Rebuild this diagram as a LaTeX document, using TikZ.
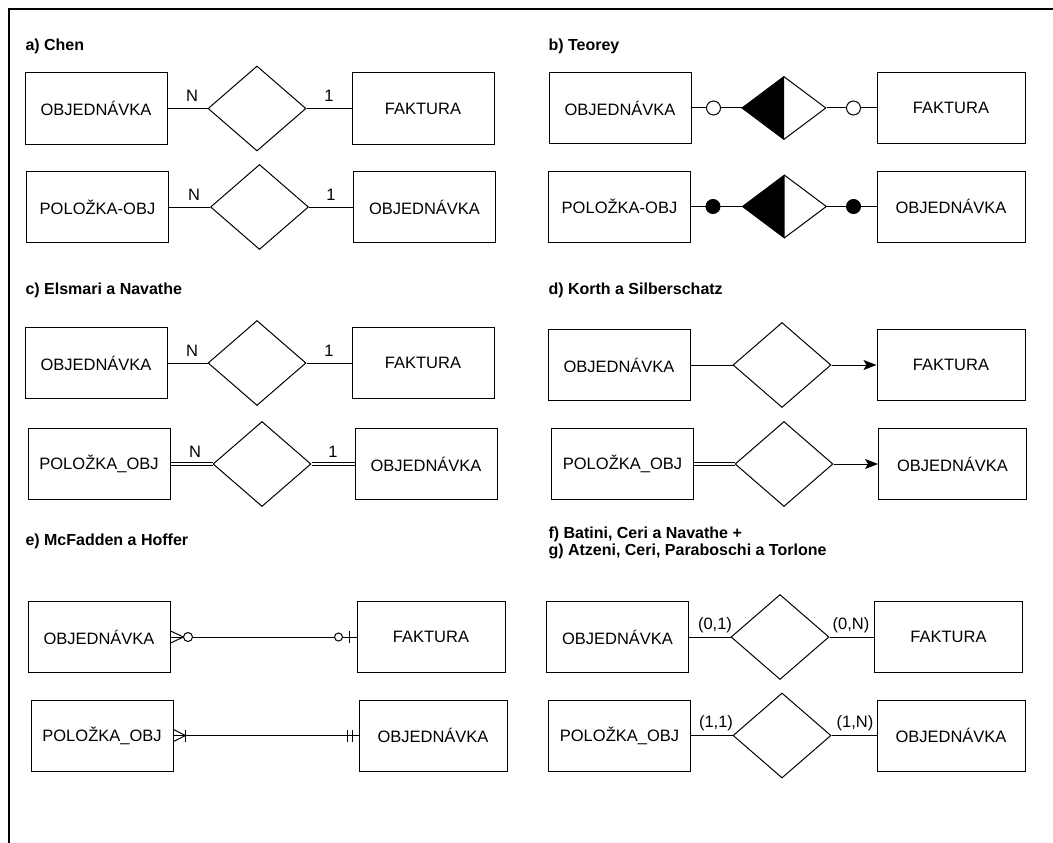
\documentclass[tikz,border=0pt]{standalone}
\usepackage{fontspec}
\setmainfont{Liberation Sans}
\usetikzlibrary{shapes.geometric}
\usetikzlibrary{arrows.meta}

\begin{document}
\begin{tikzpicture}[x=1pt, y=-1pt, line width=1pt,
	entity/.style={draw, minimum width=142pt, minimum height=71pt, inner sep=0pt, font=\fontsize{16.5}{19}\selectfont},
	wide/.style={entity, minimum width=148pt},
	rel/.style={draw, diamond, minimum width=98pt, minimum height=85pt, inner sep=0pt},
	smallrel/.style={rel, minimum width=84pt, minimum height=63pt},
	title/.style={anchor=west, inner sep=0pt, align=left, font=\bfseries\fontsize{16}{17}\selectfont},
	card/.style={inner sep=0pt, font=\fontsize{16.5}{19}\selectfont},
	ring/.style={draw, circle, fill=white, minimum size=14pt, inner sep=0pt},
	dot/.style={ring, fill=black},
	twin/.style={double, double distance=2pt},
	>={Stealth[length=13pt, width=10pt, inset=3pt]}]
	\useasboundingbox (0,0) rectangle (1053,843);
	\draw [line width=1.5pt] (9,843) -- (9,9) -- (1053,9);

	% a) Chen
	\node [title] (ta) at (25,46) {a) Chen};
	\node [entity] (aL1) at (96,108.5) {OBJEDNÁVKA};
	\node [rel] (aD1) at (257,108.5) {};
	\node [entity] (aR1) at (423,108.5) {FAKTURA};
	\node [entity] (aL2) at (97.5,207) {POLOŽKA-OBJ};
	\node [rel] (aD2) at (259.5,207) {};
	\node [entity] (aR2) at (424.5,207) {OBJEDNÁVKA};
	\draw (aL1) -- (aD1) -- (aR1);
	\draw (aL2) -- (aD2) -- (aR2);
	\node [card] (aN1) at (192,96) {N};
	\node [card] (aO1) at (329,96) {1};
	\node [card] (aN2) at (194,195) {N};
	\node [card] (aO2) at (331,195) {1};

	% b) Teorey
	\node [title] (tb) at (548,46) {b) Teorey};
	\node [entity] (bL1) at (620,108) {OBJEDNÁVKA};
	\node [smallrel] (bD1) at (784,108) {};
	\node [wide] (bR1) at (951,108) {FAKTURA};
	\node [entity] (bL2) at (619.5,206.5) {POLOŽKA-OBJ};
	\node [smallrel] (bD2) at (784.5,206.5) {};
	\node [wide] (bR2) at (951,206.5) {OBJEDNÁVKA};
	\fill (bD1.west) -- (bD1.north) -- (bD1.south) -- cycle;
	\fill (bD2.west) -- (bD2.north) -- (bD2.south) -- cycle;
	\draw (bL1) -- (bD1) -- (bR1);
	\draw (bL2) -- (bD2) -- (bR2);
	\node [ring] (bA1) at ([xshift=22pt]bL1.east) {};
	\node [ring] (bB1) at ([xshift=-23pt]bR1.west) {};
	\node [dot] (bA2) at ([xshift=22pt]bL2.east) {};
	\node [dot] (bB2) at ([xshift=-23pt]bR2.west) {};

	% c) Elsmari a Navathe
	\node [title] (tc) at (25,290) {c) Elsmari a Navathe};
	\node [entity] (cL1) at (96,363) {OBJEDNÁVKA};
	\node [rel] (cD1) at (257,363) {};
	\node [entity] (cR1) at (423,363) {FAKTURA};
	\node [entity] (cL2) at (99,464) {POLOŽKA\_OBJ};
	\node [rel] (cD2) at (262,464) {};
	\node [entity] (cR2) at (426,464) {OBJEDNÁVKA};
	\draw (cL1) -- (cD1) -- (cR1);
	\draw [twin] (cL2) -- (cD2);
	\draw [twin] (cD2) -- (cR2);
	\node [card] (cN1) at (192,351) {N};
	\node [card] (cO1) at (329,351) {1};
	\node [card] (cN2) at (195,452) {N};
	\node [card] (cO2) at (333,452) {1};

	% d) Korth a Silberschatz
	\node [title] (td) at (548,290) {d) Korth a Silberschatz};
	\node [entity] (dL1) at (619,365) {OBJEDNÁVKA};
	\node [rel] (dD1) at (782,365) {};
	\node [wide] (dR1) at (951,365) {FAKTURA};
	\node [entity] (dL2) at (622.5,464) {POLOŽKA\_OBJ};
	\node [rel] (dD2) at (784,464) {};
	\node [wide] (dR2) at (952.5,464) {OBJEDNÁVKA};
	\draw (dL1) -- (dD1);
	\draw [->] (dD1) -- (dR1);
	\draw [twin] (dL2) -- (dD2);
	\draw [->] (dD2) -- (dR2);

	% e) McFadden a Hoffer
	\node [title] (te) at (25,541) {e) McFadden a Hoffer};
	\node [entity] (eL1) at (99,637) {OBJEDNÁVKA};
	\node [wide] (eR1) at (431,637) {FAKTURA};
	\node [entity] (eL2) at (102,735.5) {POLOŽKA\_OBJ};
	\node [wide] (eR2) at (433,735.5) {OBJEDNÁVKA};
	\draw (eL1) -- (eR1);
	\draw ([yshift=6pt]eL1.east) -- ([xshift=13pt]eL1.east) -- ([yshift=-6pt]eL1.east);
	\node [ring, minimum size=9pt] (eA1) at ([xshift=17.5pt]eL1.east) {};
	\node [ring, minimum size=8pt] (eB1) at ([xshift=-18pt]eR1.west) {};
	\draw ([xshift=-7pt, yshift=6pt]eR1.west) -- ([xshift=-7pt, yshift=-6pt]eR1.west);
	\draw (eL2) -- (eR2);
	\draw ([yshift=6pt]eL2.east) -- ([xshift=12pt]eL2.east) -- ([yshift=-6pt]eL2.east);
	\draw ([xshift=12pt, yshift=6pt]eL2.east) -- ([xshift=12pt, yshift=-6pt]eL2.east);
	\draw ([xshift=-11pt, yshift=6pt]eR2.west) -- ([xshift=-11pt, yshift=-6pt]eR2.west);
	\draw ([xshift=-6pt, yshift=6pt]eR2.west) -- ([xshift=-6pt, yshift=-6pt]eR2.west);

	% f) + g)
	\node [title] (tf) at (548,542.5) {f) Batini, Ceri a Navathe +\\g) Atzeni, Ceri, Paraboschi a Torlone};
	\node [entity] (fL1) at (617.5,637) {OBJEDNÁVKA};
	\node [rel] (fD1) at (780,637) {};
	\node [wide] (fR1) at (948.5,637) {FAKTURA};
	\node [entity] (fL2) at (619.5,735.5) {POLOŽKA\_OBJ};
	\node [rel] (fD2) at (782,735.5) {};
	\node [wide] (fR2) at (951,735.5) {OBJEDNÁVKA};
	\draw (fL1) -- (fD1) -- (fR1);
	\draw (fL2) -- (fD2) -- (fR2);
	\node [card] (fA1) at (715,625) {(0,1)};
	\node [card] (fB1) at (851,625) {(0,N)};
	\node [card] (fA2) at (716,723) {(1,1)};
	\node [card] (fB2) at (855,723) {(1,N)};
\end{tikzpicture}
\end{document}
